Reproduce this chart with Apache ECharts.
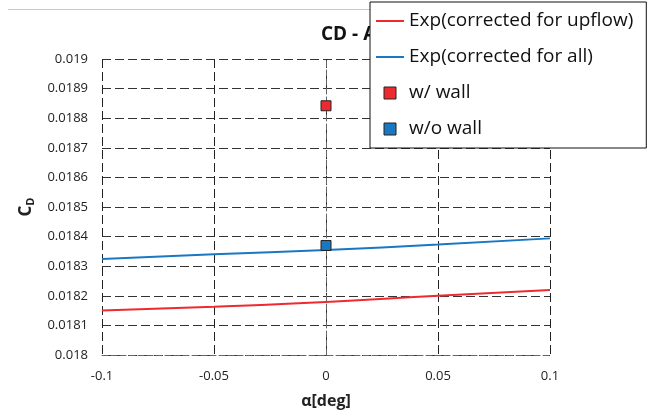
<!DOCTYPE html>
<html><head><meta charset="utf-8">
<script src="https://cdn.jsdelivr.net/npm/echarts@6/dist/echarts.min.js"></script>
<style>html,body{margin:0;padding:0;background:#fff}#c{width:651px;height:415px}</style>
</head><body><div id="c"></div>
<script>
var alphaValues = [-0.1, -0.05, 0, 0.05, 0.1];
var cdUpflow = [0.018150, 0.018163, 0.018179, 0.018200, 0.018220];
var cdAll = [0.018324, 0.018340, 0.018355, 0.018373, 0.018394];
var wallAlpha = [0];
var cdWall = [0.018842];
var noWallAlpha = [0];
var cdNoWall = [0.018370];
var seriesNames = ['Exp(corrected for upflow)', 'Exp(corrected for all)', 'w/ wall', 'w/o wall'];

var RED = '#EE2A2F', BLUE = '#1A78C2';
function pairs(xs, ys){ return xs.map(function(x,i){ return [x, ys[i]]; }); }
var FONT = '"Open Sans", sans-serif';
var chart = echarts.init(document.getElementById('c'), null, {renderer:'canvas'});
chart.setOption({
  animation: false,
  backgroundColor: '#fff',
  textStyle: {fontFamily: FONT},
  graphic: [{type:'line', shape:{x1:8, y1:9.5, x2:370, y2:9.5}, style:{stroke:'#c8c8c8', lineWidth:1}, z:0}],
  title: {text: 'CD - AoA', left: 316, top: 20, z: 1,
    textStyle: {fontFamily: FONT, fontSize: 19, fontWeight: 'bold', color: '#111'}},
  legend: {
    orient: 'vertical', left: 370, top: 2, z: 10,
    backgroundColor: '#fff', borderColor: '#111', borderWidth: 1,
    padding: [9, 13, 9, 6], itemWidth: 28, itemHeight: 12, itemGap: 16,
    textStyle: {fontFamily: FONT, fontSize: 19, color: '#111', lineHeight: 20},
    data: [
      {name: seriesNames[0], icon: 'path://M0,0h28v2H0z'},
      {name: seriesNames[1], icon: 'path://M0,0h28v2H0z'},
      {name: seriesNames[2], icon: 'path://M0,0h10v10H0z', itemStyle:{color: RED, borderColor:'#222', borderWidth:1}},
      {name: seriesNames[3], icon: 'path://M0,0h10v10H0z', itemStyle:{color: BLUE, borderColor:'#222', borderWidth:1}}
    ]
  },
  grid: {left: 102, right: 101, top: 59, bottom: 60},
  xAxis: {
    type: 'value', min: -0.1, max: 0.1, interval: 0.05,
    name: 'α[deg]', nameLocation: 'middle', nameGap: 38,
    nameTextStyle: {fontFamily: FONT, fontSize: 16, fontWeight: 'bold', color: '#222'},
    axisLine: {show: true, lineStyle: {color: '#666', type: [6,3]}},
    axisTick: {show: false},
    axisLabel: {margin: 15, fontSize: 13, color: '#222', fontFamily: FONT,
      formatter: function(v){ return String(parseFloat(v.toFixed(3))); }},
    splitLine: {show: true, lineStyle: {color: '#222', type: [9,4], width: 1}}
  },
  yAxis: {
    type: 'value', min: 0.018, max: 0.019, interval: 0.0001,
    name: '{c|C}{d|D}', nameLocation: 'middle', nameGap: 60,
    nameTextStyle: {rich: {
      c: {fontFamily: FONT, fontSize: 17, fontWeight: 'bold', color: '#222'},
      d: {fontFamily: FONT, fontSize: 11, fontWeight: 'bold', color: '#222', padding: [9,0,0,0]}
    }},
    axisLine: {show: true, lineStyle: {color: '#666', type: [6,3]}},
    axisTick: {show: false},
    axisLabel: {margin: 14, fontSize: 13, color: '#222', fontFamily: FONT,
      formatter: function(v){ return String(parseFloat(v.toFixed(4))); }},
    splitLine: {show: true, lineStyle: {color: '#333', type: [9,4], width: 1}}
  },
  series: [
    {name: seriesNames[0], type: 'line', data: pairs(alphaValues, cdUpflow), showSymbol: false,
      smooth: true, color: RED, lineStyle: {color: RED, width: 2}},
    {name: seriesNames[1], type: 'line', data: pairs(alphaValues, cdAll), showSymbol: false,
      smooth: true, color: BLUE, lineStyle: {color: BLUE, width: 2}},
    {name: seriesNames[2], type: 'scatter', data: pairs(wallAlpha, cdWall), symbol: 'rect', symbolSize: 10,
      color: RED, itemStyle: {color: RED, borderColor: '#222', borderWidth: 1, opacity: 1}, z: 5},
    {name: seriesNames[3], type: 'scatter', data: pairs(noWallAlpha, cdNoWall), symbol: 'rect', symbolSize: 10,
      color: BLUE, itemStyle: {color: BLUE, borderColor: '#222', borderWidth: 1, opacity: 1}, z: 5}
  ]
});
</script></body></html>
